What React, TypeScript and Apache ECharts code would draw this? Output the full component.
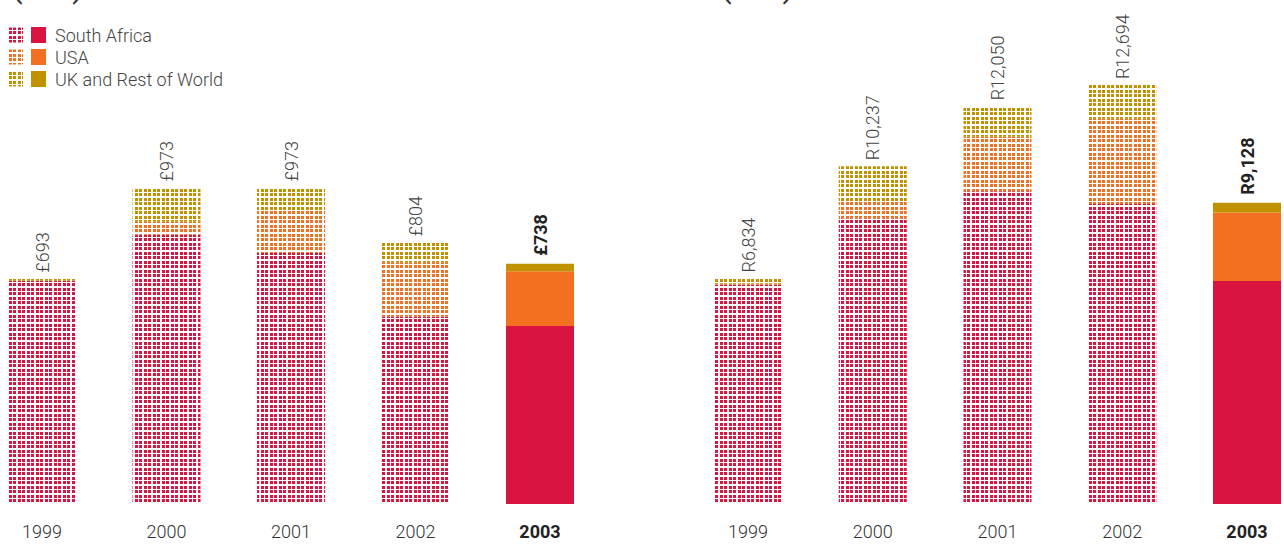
import React, { useEffect, useRef } from "react";
import * as echarts from "echarts";

const years = ["1999", "2000", "2001", "2002", "2003"];
const seriesNames = ["South Africa", "USA", "UK and Rest of World"];
const seriesColors = ["#D91440", "#F37021", "#C09200"];

// Left panel (£m)
const gbpTotals = [693, 973, 973, 804, 738];
const gbpSouthAfrica = [686, 827, 771, 576, 547];
const gbpUSA = [0, 40, 131, 167, 168];
const gbpUK = [7, 106, 71, 61, 23];

// Right panel (Rm)
const zarTotals = [6834, 10237, 12050, 12694, 9128];
const zarSouthAfrica = [6644, 8655, 9475, 9088, 6755];
const zarUSA = [40, 500, 1653, 2584, 2082];
const zarUK = [150, 1082, 922, 1022, 291];

const FONT = "Roboto, 'Helvetica Neue', Arial, sans-serif";

function makePattern(color: string) {
  const c = document.createElement("canvas");
  c.width = 9;
  c.height = 9;
  const ctx = c.getContext("2d")!;
  ctx.fillStyle = color;
  for (const x of [0, 4]) for (const y of [0, 4]) ctx.fillRect(x, y, 3, 3);
  return { image: c, repeat: "repeat" as const };
}

export default function App() {
  const ref = useRef<HTMLDivElement>(null);
  useEffect(() => {
    if (!ref.current) return;
    const chart = echarts.init(ref.current, null, { renderer: "svg" });
    const patterns = seriesColors.map((c) => makePattern(c));
    const fmt = (n: number) => n.toLocaleString("en-US");

    const buildSeries = (
      panel: number,
      sets: number[][],
      totals: number[],
      prefix: string
    ) =>
      sets.map((vals, si) => ({
        type: "bar",
        name: seriesNames[si],
        stack: "s" + panel,
        xAxisIndex: panel,
        yAxisIndex: panel,
        barWidth: 68,
        clip: false,
        silent: true,
        data: vals.map((v, i) => ({
          value: v,
          itemStyle: { color: i === years.length - 1 ? seriesColors[si] : patterns[si] },
          label:
            si === 2 && i === years.length - 1
              ? { fontWeight: "bold", color: "#222", distance: 8 }
              : undefined,
        })),
        label:
          si === 2
            ? {
                show: true,
                position: "top",
                rotate: 90,
                distance: 6,
                align: "left",
                verticalAlign: "middle",
                fontSize: 18,
                fontFamily: FONT,
                fontWeight: 300,
                color: "#444",
                formatter: (p: any) => prefix + fmt(totals[p.dataIndex]),
              }
            : { show: false },
      }));

    const xAxis = (gridIndex: number) => ({
      type: "category",
      gridIndex,
      data: years,
      boundaryGap: false,
      axisLine: { show: false },
      axisTick: { show: false },
      splitLine: { show: false },
      axisLabel: {
        margin: 18,
        fontSize: 18,
        fontFamily: FONT,
        fontWeight: 300,
        color: "#333",
        formatter: (v: string, i: number) =>
          i === years.length - 1 ? "{b|" + v + "}" : v,
        rich: { b: { fontWeight: "bold", fontSize: 18, fontFamily: FONT, color: "#222" } },
      },
    });

    const legendChildren: any[] = [];
    seriesNames.forEach((n, i) => {
      const cy = 35 + i * 22;
      legendChildren.push(
        { type: "rect", shape: { x: 8, y: cy - 7.5, width: 15, height: 15 }, style: { fill: patterns[i] } },
        { type: "rect", shape: { x: 31, y: cy - 8, width: 15, height: 16 }, style: { fill: seriesColors[i] } },
        {
          type: "text",
          x: 55,
          y: cy,
          style: { text: n, fontSize: 18, fontFamily: FONT, fontWeight: 300, fill: "#444", verticalAlign: "middle" },
        }
      );
    });

    chart.setOption({
      animation: false,
      grid: [
        { left: 42, width: 498, top: 178.5, height: 325.5 },
        { left: 748, width: 499, top: 75, height: 429 },
      ],
      xAxis: [xAxis(0), xAxis(1)],
      yAxis: [
        { type: "value", gridIndex: 0, min: 0, max: 1000, show: false },
        { type: "value", gridIndex: 1, min: 0, max: 13000, show: false },
      ],
      series: [
        ...buildSeries(0, [gbpSouthAfrica, gbpUSA, gbpUK], gbpTotals, "£"),
        ...buildSeries(1, [zarSouthAfrica, zarUSA, zarUK], zarTotals, "R"),
      ],
      graphic: [
        ...legendChildren,
        {
          type: "text",
          x: 11,
          y: 2,
          style: { text: "(£m)", fontSize: 34, fontFamily: FONT, fill: "#333", verticalAlign: "bottom" },
        },
        {
          type: "text",
          x: 720,
          y: 2,
          style: { text: "(Rm)", fontSize: 34, fontFamily: FONT, fill: "#333", verticalAlign: "bottom" },
        },
      ],
    });
    return () => chart.dispose();
  }, []);
  return (
    <div
      ref={ref}
      style={{ position: "fixed", left: 0, top: 0, width: 1284, height: 544, background: "#fff" }}
    />
  );
}
